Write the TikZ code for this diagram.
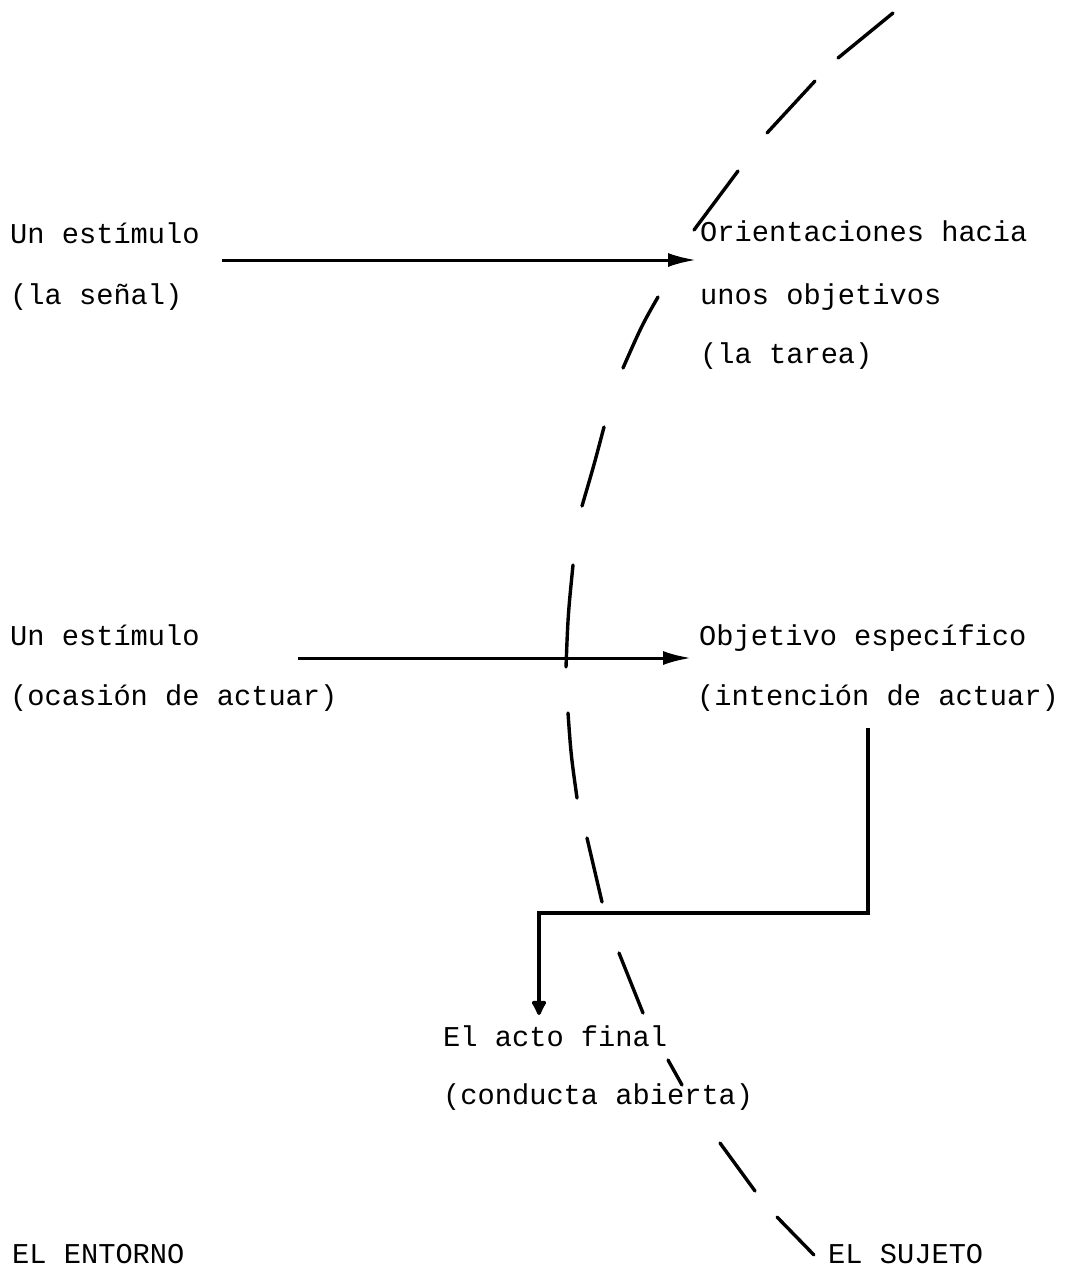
\documentclass[tikz,border=0pt]{standalone}
\usepackage{fontspec}
\setmonofont{Liberation Mono}
\usetikzlibrary{arrows.meta}
\begin{document}
\begin{tikzpicture}[x=1pt,y=-1pt,
  txt/.style={anchor=base west,inner sep=0pt,font=\ttfamily\fontsize{28.7}{34}\selectfont},
  conn/.style={line width=3pt,-{Latex[length=28pt,width=14pt]}},
  elbow/.style={line width=3.6pt,-{Latex[length=18pt,width=18pt,round]}},
  bound/.style={line width=3.4pt,line cap=round}]
\useasboundingbox (0,0) rectangle (1068,1284);
% texts
\node[txt] (s1a) at (10,243) {Un estímulo};
\node[txt] (s1b) at (10,304) {(la señal)};
\node[txt] (o1a) at (700,241) {Orientaciones hacia};
\node[txt] (o1b) at (700,304) {unos objetivos};
\node[txt] (o1c) at (700,363) {(la tarea)};
\node[txt] (s2a) at (10,645) {Un estímulo};
\node[txt] (s2b) at (10,705) {(ocasión de actuar)};
\node[txt] (o2a) at (699,645) {Objetivo específico};
\node[txt] (o2b) at (697,705) {(intención de actuar)};
\node[txt] (fa) at (443,1046) {El acto final};
\node[txt] (fb) at (443,1104) {(conducta abierta)};
\node[txt] (ent) at (12,1263) {EL ENTORNO};
\node[txt] (suj) at (828,1263) {EL SUJETO};
% connector ends
\coordinate (a1s) at (222,260);
\coordinate (a1e) at (696,260);
\coordinate (a2s) at (298,658);
\coordinate (a2e) at (691,658);
\coordinate (e0) at (868,728);
\coordinate (e1) at (868,913);
\coordinate (e2) at (539,913);
\coordinate (e3) at (539,1015);
\draw[conn] (a1s) -- (a1e);
\draw[conn] (a2s) -- (a2e);
\draw[elbow] (e0) -- (e1) -- (e2) -- (e3);
% dashed boundary
\draw[bound] (893,13) -- (838,58);
\draw[bound] (815,81) -- (767,133);
\draw[bound] (738,171) -- (694,230);
\draw[bound] (658,297) .. controls (642,325) .. (623,368);
\draw[bound] (604,427) .. controls (594,465) .. (582,506);
\draw[bound] (573,565) .. controls (568,615) .. (566,667);
\draw[bound] (568,713) .. controls (571,755) .. (577,798);
\draw[bound] (587,838) -- (602,902);
\draw[bound] (619,953) -- (643,1013);
\draw[bound] (668,1060) -- (682,1085);
\draw[bound] (720,1143) -- (755,1191);
\draw[bound] (777,1217) -- (814,1255);
\end{tikzpicture}
\end{document}
